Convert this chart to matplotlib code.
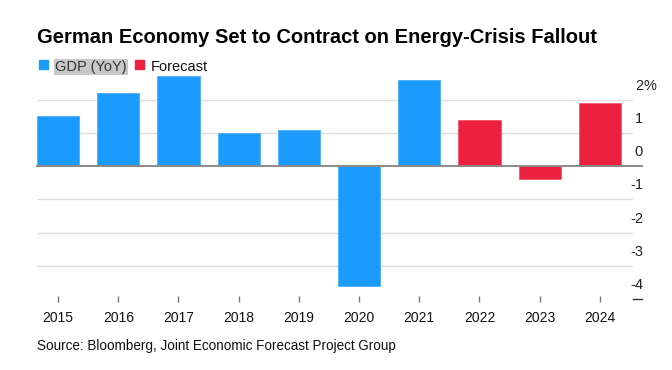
import numpy as np
import matplotlib.pyplot as plt
import matplotlib.transforms as mtransforms

plt.rcParams['font.family'] = ['Liberation Sans', 'DejaVu Sans']

# Data
years = ['2015', '2016', '2017', '2018', '2019', '2020', '2021', '2022', '2023', '2024']
gdp = [1.5, 2.2, 2.7, 1.0, 1.1, -3.6, 2.6]
forecast = [1.4, -0.4, 1.9]
yticks = [2, 1, 0, -1, -2, -3, -4]

blue = '#1b9bfd'
red = '#ec2140'

fig = plt.figure(figsize=(6.72, 3.70), dpi=100)
ax = fig.add_axes([37/672, 1 - 299/370, (633 - 37)/672, (299 - 73)/370])

x = np.arange(len(years))
ng = len(gdp)
ax.bar(x[:ng], gdp, width=0.7, color=blue, edgecolor='#4db0fb', linewidth=0.6, zorder=3)
ax.bar(x[ng:], forecast, width=0.7, color=red, edgecolor='#f25a70', linewidth=0.6, zorder=3)

ax.set_xlim(-0.35, 9.55)
ax.set_ylim(-4, 2.8)

# gridlines
for v in yticks:
    if v == 0:
        ax.axhline(0, xmin=0, xmax=1.015, color='#8a8a8a', lw=1.4, zorder=4, clip_on=False)
    elif v == -4:
        ax.plot([1.0, 1.015], [-4, -4], transform=ax.get_yaxis_transform(),
                color='#333333', lw=1.0, clip_on=False)
    else:
        ax.axhline(v, color='#dddddd', lw=1.0, zorder=1)

# y labels on right, sitting above their gridlines
off = mtransforms.offset_copy(ax.get_yaxis_transform(), fig=fig, x=0, y=5, units='points')
for v in yticks:
    ax.text(1.0 + 10/596, v, str(v), transform=off, ha='right', va='bottom',
            fontsize=10.5, color='#222222')
ax.text(1.0 + 10/596, 2, '%', transform=off, ha='left', va='bottom',
        fontsize=10.5, color='#222222')

ax.set_yticks([])
ax.set_xticks(x)
ax.set_xticklabels(years, fontsize=10, color='#111111')
ax.tick_params(axis='x', length=5, width=1, color='#777777', pad=6, direction='inout')
for s in ax.spines.values():
    s.set_visible(False)

# title
fig.text(37/672, 1 - 43/370, 'German Economy Set to Contract on Energy-Crisis Fallout',
         fontsize=14.5, fontweight='bold', va='baseline', ha='left', color='black')

# legend
fig.patches.append(plt.Rectangle((39/672, 1 - 69/370), 9/672, 9/370,
                                 transform=fig.transFigure, color=blue))
fig.text(55/672, 1 - 71/370, 'GDP (YoY)', fontsize=10.5, va='baseline', ha='left',
         color='#333333',
         bbox=dict(boxstyle='square,pad=0.1', fc='#c8c8c8', ec='none'))
fig.patches.append(plt.Rectangle((135/672, 1 - 69/370), 9/672, 9/370,
                                 transform=fig.transFigure, color=red))
fig.text(151/672, 1 - 71/370, 'Forecast', fontsize=10.5, va='baseline', ha='left',
         color='#111111')

# source
fig.text(37/672, 1 - 350/370, 'Source: Bloomberg, Joint Economic Forecast Project Group',
         fontsize=9.75, va='baseline', ha='left', color='#111111')

fig.savefig('out.png', dpi=100)
